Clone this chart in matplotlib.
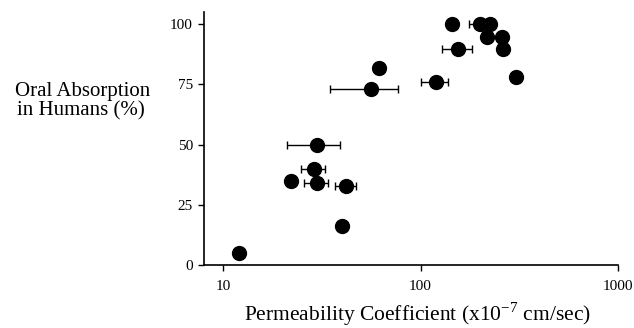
import matplotlib
matplotlib.use("Agg")
import matplotlib.pyplot as plt
import numpy as np

# Data
perm = [12, 22, 30, 29, 30, 42, 40, 56, 62, 120, 155, 144, 200, 226, 216, 258, 261, 303]
absorp = [5, 35, 50, 40, 34, 33, 16, 73, 82, 76, 89.5, 100, 100, 100, 94.5, 94.5, 89.5, 78]
# error bar extents (low, high); None where no bar
err_lo = [None, None, 21, 24.8, 25.8, 36.8, None, 35, None, 101, 128, None, 176, None, None, None, None, None]
err_hi = [None, None, 39, 33, 34.2, 47.3, None, 77.3, None, 138, 182, None, 222, None, None, None, None, None]

xticks = [10, 100, 1000]
xticklabels = ["10", "100", "1000"]
yticks = [0, 25, 50, 75, 100]

plt.rcParams['font.family'] = ['Liberation Serif', 'DejaVu Serif']
plt.rcParams['mathtext.fontset'] = 'custom'
plt.rcParams['mathtext.rm'] = 'Liberation Serif'

fig = plt.figure(figsize=(6.34, 3.28), dpi=100)
ax = fig.add_axes([0.322, 0.192, 0.653, 0.771])

for x, y, lo, hi in zip(perm, absorp, err_lo, err_hi):
    if lo is not None:
        ax.errorbar([x], [y], xerr=[[x - lo], [hi - x]], fmt='none',
                    ecolor='black', elinewidth=1.0, capsize=3, capthick=1.0, zorder=2)
ax.plot(perm, absorp, 'o', color='black', markersize=10, zorder=3)

ax.set_xscale('log')
ax.set_xlim(8.04, 1000)
ax.set_ylim(0, 105)
ax.set_xticks(xticks)
ax.set_xticklabels(xticklabels)
ax.xaxis.set_minor_locator(matplotlib.ticker.NullLocator())
ax.set_yticks(yticks)
ax.tick_params(axis='both', direction='out', length=4, width=1, labelsize=11)
ax.tick_params(axis='x', pad=7)
ax.tick_params(axis='y', pad=4)
for s in ['top', 'right']:
    ax.spines[s].set_visible(False)
for s in ['left', 'bottom']:
    ax.spines[s].set_linewidth(1.2)

fig.text(417/634, 7/328, "Permeability Coefficient (x10$^{\\mathrm{-7}}$ cm/sec)", fontsize=15.5,
         ha='center', va='baseline')
fig.text(83/634, 1 - 96/328, "Oral Absorption", fontsize=15, ha='center', va='baseline')
fig.text(81/634, 1 - 115/328, "in Humans (%)", fontsize=15, ha='center', va='baseline')

fig.savefig("out.png", dpi=100)
